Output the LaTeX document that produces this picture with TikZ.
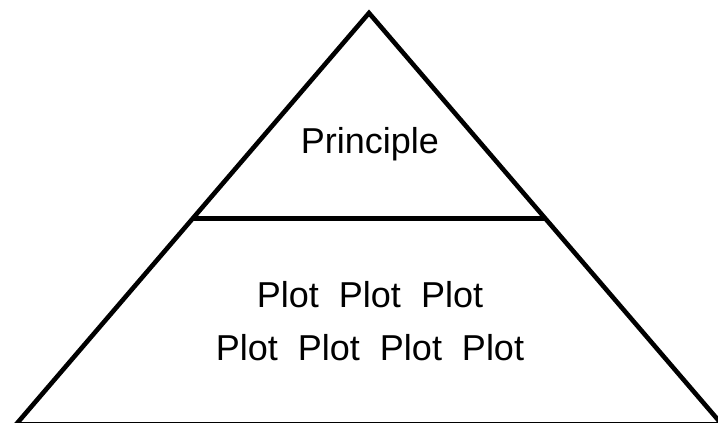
\documentclass[tikz,border=0pt]{standalone}
\usepackage{fontspec}
\setmainfont{Liberation Sans}
\usepackage{tikz}
\usetikzlibrary{calc}

\begin{document}
\begin{tikzpicture}[
    x=1pt, y=-1pt,
    edge/.style={draw=black, line width=4.6pt, line join=miter},
    layer/.style={anchor=base, inner sep=0pt, font=\fontsize{36}{42}\selectfont}
]
    \clip (0,0) rectangle (718,423);
    \coordinate (apex) at (369,13);
    \coordinate (baseleft) at (16,424.5);
    \coordinate (baseright) at (722,424.5);
    \coordinate (cutleft) at ($(apex)!0.5!(baseleft)$);
    \coordinate (cutright) at ($(apex)!0.5!(baseright)$);

    \draw[edge] (baseleft) -- (apex) -- (baseright) -- cycle;
    \draw[edge] (cutleft) -- (cutright);

    \node[layer] (principle) at (370,153) {Principle};
    \node[layer] (plotsupper) at (370,307) {Plot~~Plot~~Plot};
    \node[layer] (plotslower) at (370,360) {Plot~~Plot~~Plot~~Plot};
\end{tikzpicture}
\end{document}
